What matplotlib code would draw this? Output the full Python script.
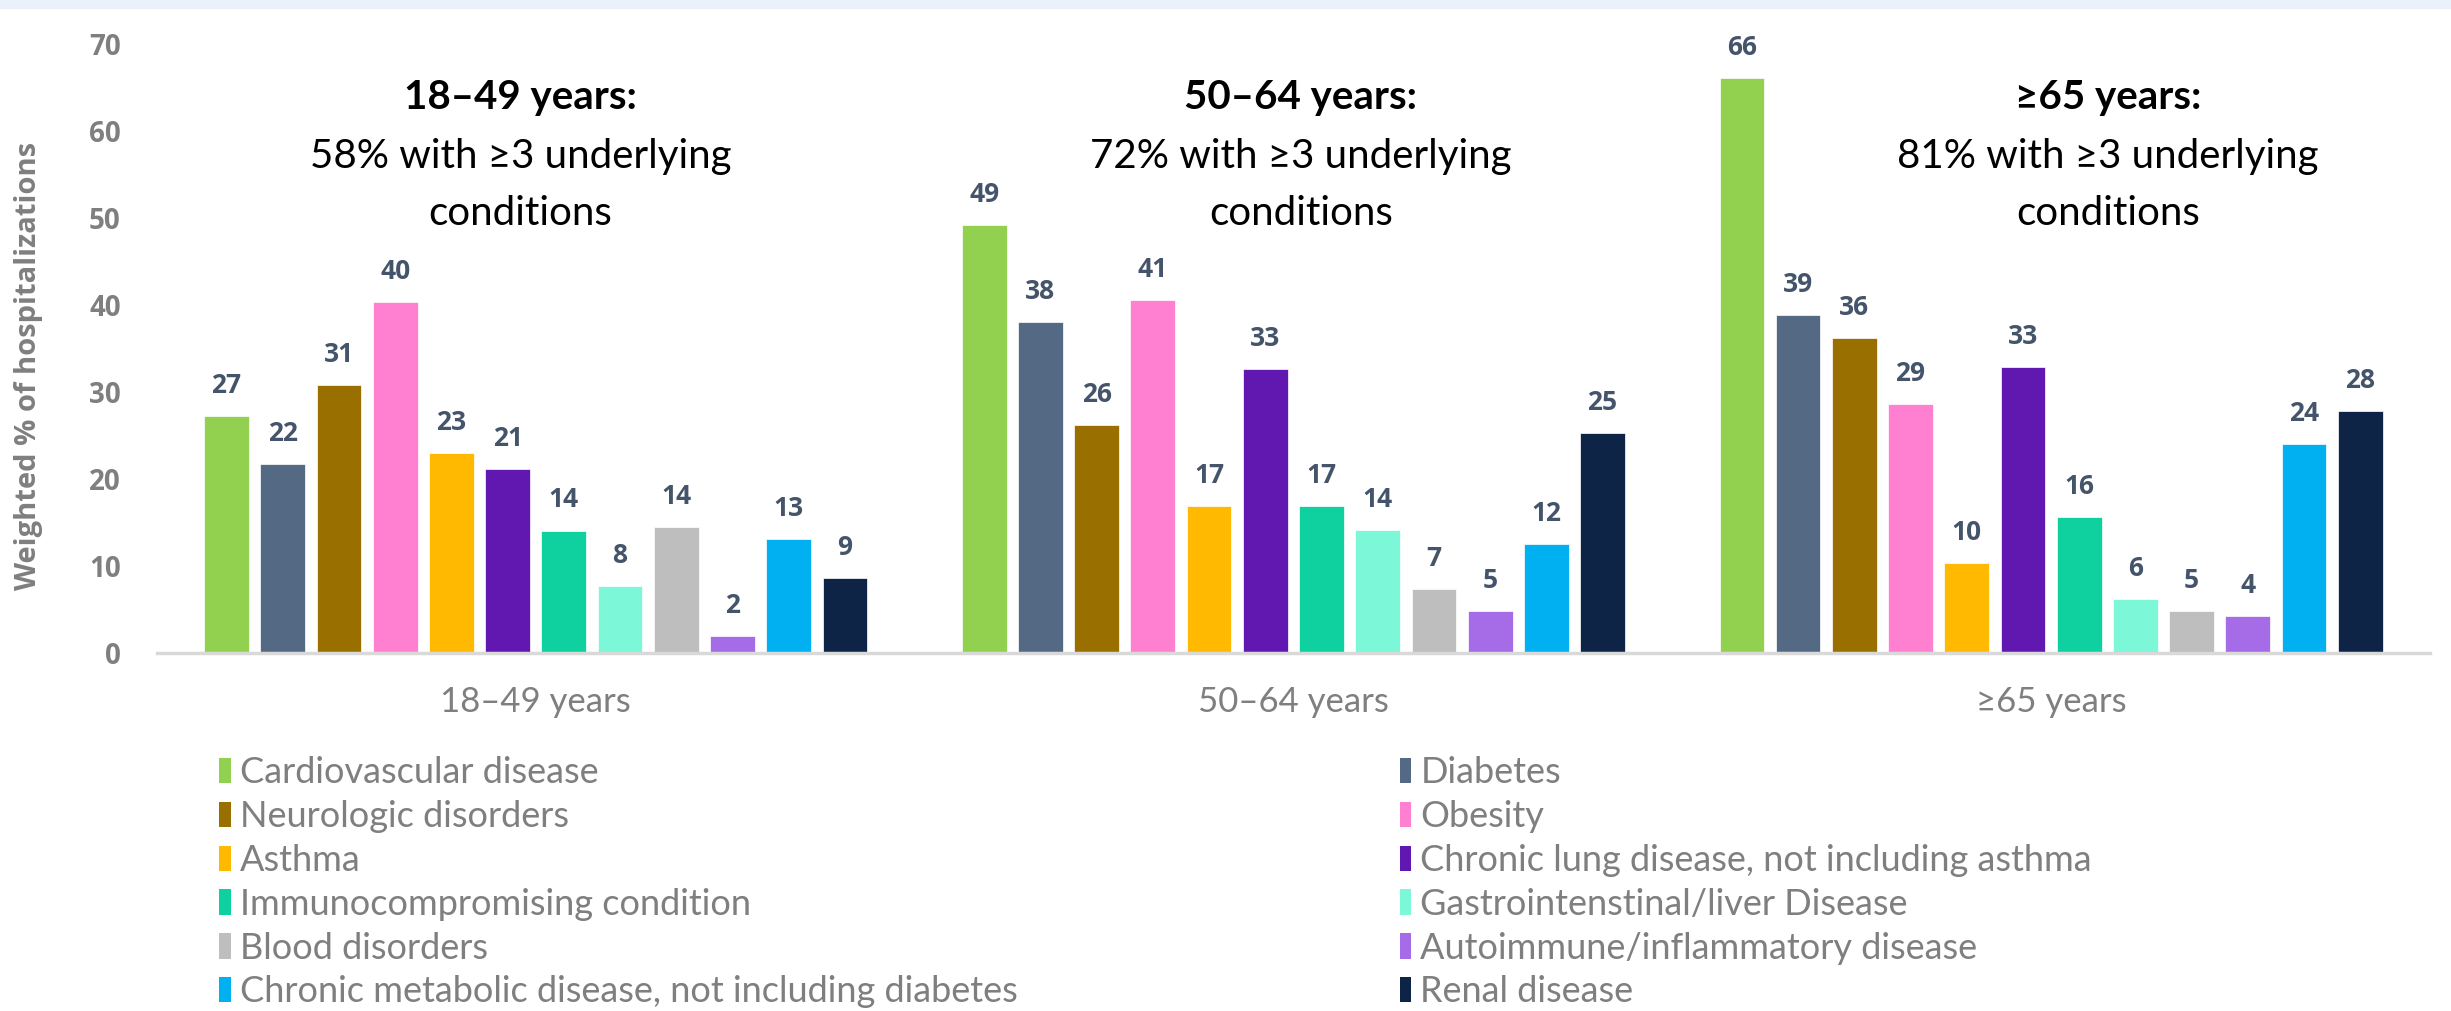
import matplotlib
matplotlib.use("Agg")
import matplotlib.pyplot as plt
from matplotlib.patches import Rectangle, Patch
import numpy as np

# data
groups = ["18\u201349 years", "50\u201364 years", "\u226565 years"]
conditions = [
    "Cardiovascular disease", "Diabetes", "Neurologic disorders", "Obesity",
    "Asthma", "Chronic lung disease, not including asthma",
    "Immunocompromising condition", "Gastrointenstinal/liver Disease",
    "Blood disorders", "Autoimmune/inflammatory disease",
    "Chronic metabolic disease, not including diabetes", "Renal disease",
]
colors = ["#92D050", "#546A84", "#996F00", "#FF80D0", "#FFB900", "#6118B0",
          "#0FD09F", "#7CF7D8", "#BEBEBE", "#A66BE6", "#00B0F0", "#0E2447"]
vals_18_49 = [27.3, 21.7, 30.8, 40.4, 23.0, 21.2, 14.1, 7.7, 14.5, 2.0, 13.1, 8.6]
vals_50_64 = [49.2, 38.1, 26.2, 40.6, 16.9, 32.7, 16.9, 14.2, 7.4, 4.8, 12.5, 25.3]
vals_65 = [66.1, 38.9, 36.2, 28.7, 10.4, 32.9, 15.6, 6.2, 4.8, 4.3, 24.1, 27.8]
pct_3plus = [58, 72, 81]

values = np.array([vals_18_49, vals_50_64, vals_65])

TXT = ["Lato", "DejaVu Sans"]
NUMF = ["Open Sans", "DejaVu Sans"]
GRAY = "#7F7F7F"

fig = plt.figure(figsize=(24.51, 10.11), dpi=100)
fig.patches.append(Rectangle((0, 1 - 8 / 1011), 1, 8 / 1011, transform=fig.transFigure,
                             color="#EAF1FB", zorder=0))
ax = fig.add_axes([0.064, 0.354, 0.9274, 0.602])

x = np.arange(len(groups))
step = 0.0742
width = 0.059
for i, name in enumerate(conditions):
    xs = x + (i - 5.5) * step
    bars = ax.bar(xs, values[:, i], width, color=colors[i], edgecolor="white",
                  linewidth=0.5, label=name, zorder=2)
    for b, v in zip(bars, values[:, i]):
        ax.annotate(f"{v:.0f}", (b.get_x() + b.get_width() / 2, v),
                    xytext=(0, 22), textcoords="offset points",
                    ha="center", va="center", fontsize=19, fontweight="bold",
                    color="#44546A", family=NUMF)

ax.set_xlim(-0.5, 2.5)
ax.set_ylim(0, 70)
ax.set_yticks(np.arange(0, 71, 10))
ax.set_xticks(x)
ax.set_xticklabels(groups, family=TXT, fontsize=25, color=GRAY)
for t in ax.get_yticklabels():
    t.set_family(NUMF)
    t.set_fontsize(20)
    t.set_fontweight("bold")
    t.set_color(GRAY)
ax.tick_params(axis="y", length=0, pad=26)
ax.tick_params(axis="x", length=0, pad=24)
for s in ["top", "right", "left"]:
    ax.spines[s].set_visible(False)
ax.spines["bottom"].set_color("#D9D9D9")
ax.spines["bottom"].set_linewidth(2.5)

fig.text(0.0115, 0.638, "Weighted % of hospitalizations", rotation=90,
         ha="center", va="center", fontsize=21, fontweight="bold",
         color=GRAY, family=NUMF)

# group annotations
text_x = [-0.02, 1.01, 2.075]
for gx, g, p in zip(text_x, groups, pct_3plus):
    ax.text(gx, 63.9, g + ":", ha="center", va="center", fontsize=29,
            fontweight="bold", family=TXT, color="black")
    ax.text(gx, 57.1, f"{p}% with \u22653 underlying", ha="center", va="center",
            fontsize=29, family=TXT, color="black")
    ax.text(gx, 50.6, "conditions", ha="center", va="center", fontsize=29,
            family=TXT, color="black")

# legend in two columns, row-major order
handles = [Patch(facecolor=c, label=n) for c, n in zip(colors, conditions)]
for col, lx in enumerate([0.0894, 0.571]):
    hs = handles[col::2]
    leg = fig.legend(handles=hs, loc="upper left", bbox_to_anchor=(lx, 0.252),
                     frameon=False, borderpad=0, borderaxespad=0,
                     handlelength=0.33, handleheight=0.7, handletextpad=0.25,
                     labelspacing=0.3, prop={"family": TXT, "size": 26})
    for t in leg.get_texts():
        t.set_color(GRAY)

fig.savefig("out.png", dpi=100, facecolor="white")
